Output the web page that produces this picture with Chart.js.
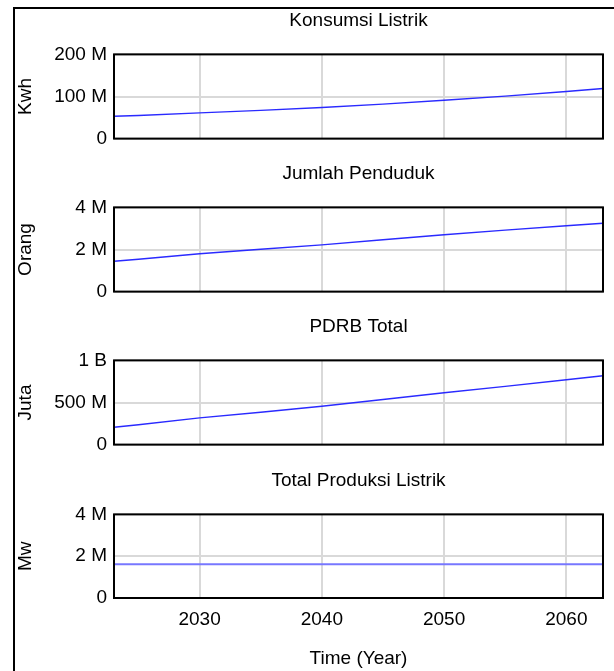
<!DOCTYPE html>
<html>
<head>
<meta charset="utf-8">
<script src="https://cdn.jsdelivr.net/npm/chart.js@4/dist/chart.umd.min.js"></script>
<style>
  html, body { margin: 0; padding: 0; background: #ffffff; }
  body { width: 614px; height: 671px; position: relative; overflow: hidden; }
  #frame { position: absolute; left: 13px; top: 7px; width: 610px; height: 680px;
           border-left: 2px solid #000; border-top: 2px solid #000; box-sizing: border-box; }
  canvas { position: absolute; left: 0; }
</style>
</head>
<body>
<div id="frame"></div>
<canvas id="c1" width="614" height="148" style="top:9px"></canvas>
<canvas id="c2" width="614" height="148" style="top:162px"></canvas>
<canvas id="c3" width="614" height="148" style="top:315px"></canvas>
<canvas id="c4" width="614" height="202" style="top:469px"></canvas>
<script>
// ---- data (values in millions) ----
const years = [2023, 2025, 2030, 2035, 2040, 2045, 2050, 2055, 2060, 2063];
const konsumsiListrik = [53, 55, 61, 67, 74, 82, 91, 101, 112, 119];       // Kwh
const jumlahPenduduk  = [1.44, 1.54, 1.80, 2.01, 2.22, 2.46, 2.70, 2.92, 3.13, 3.25]; // Orang
const pdrbTotal       = [206, 236, 318, 385, 456, 535, 615, 692, 770, 818]; // Juta
const produksiListrik = [1.61, 1.61, 1.61, 1.61, 1.61, 1.61, 1.61, 1.61, 1.61, 1.61]; // Mw
const xTicks = [2030, 2040, 2050, 2060];
const titles = ['Konsumsi Listrik', 'Jumlah Penduduk', 'PDRB Total', 'Total Produksi Listrik'];
const units  = ['Kwh', 'Orang', 'Juta', 'Mw'];
const yMax   = [200, 4, 1000, 4];
const yStep  = [100, 2, 500, 2];
const xAxisTitle = 'Time (Year)';

const FONT = "'Liberation Sans', Arial, sans-serif";
const FS = 19;

function fmt(v) {
  if (v === 0) return '0';
  if (v >= 1000) return (v / 1000) + ' B';
  return v + ' M';
}

const framePlugin = {
  id: 'frame',
  afterDraw(chart) {
    const a = chart.chartArea, ctx = chart.ctx;
    ctx.save();
    ctx.strokeStyle = '#000';
    ctx.lineWidth = 2;
    ctx.strokeRect(a.left, a.top, a.right - a.left, a.bottom - a.top);
    ctx.restore();
  }
};

function makeChart(id, idx, values, isLast) {
  const pts = years.map((y, i) => ({ x: y, y: values[i] }));
  return new Chart(document.getElementById(id), {
    type: 'line',
    data: { datasets: [{
      data: pts,
      borderColor: isLast ? '#7777ff' : '#2a2aff',
      borderWidth: isLast ? 2 : 1.4,
      pointRadius: 0,
      tension: 0,
      fill: false
    }]},
    options: {
      responsive: false,
      animation: false,
      devicePixelRatio: 1,
      layout: { padding: { left: 0, right: 11, top: 0, bottom: isLast ? 0 : 12 } },
      plugins: {
        legend: { display: false },
        tooltip: { enabled: false },
        title: {
          display: true, text: titles[idx], color: '#000', fullSize: false,
          font: { family: FONT, size: FS, weight: 'normal' },
          padding: { top: 0, bottom: 22.6 }
        }
      },
      scales: {
        x: {
          type: 'linear', min: 2023, max: 2063,
          afterBuildTicks: s => { s.ticks = xTicks.map(v => ({ value: v })); },
          afterFit: s => { s.height = isLast ? 73 : 0; },
          grid: { color: '#d9d9d9', lineWidth: 2, drawTicks: false },
          border: { display: false },
          ticks: {
            display: isLast, color: '#000', padding: 10, maxRotation: 0,
            font: { family: FONT, size: FS },
            callback: v => String(v)
          },
          title: {
            display: isLast, text: xAxisTitle, color: '#000',
            font: { family: FONT, size: FS },
            padding: { top: 0, bottom: 1 }
          }
        },
        y: {
          min: 0, max: yMax[idx],
          afterFit: s => { s.width = 114; },
          grid: { color: '#d9d9d9', lineWidth: 2, drawTicks: false },
          border: { display: false },
          ticks: {
            stepSize: yStep[idx], color: '#000', padding: 7,
            font: { family: FONT, size: FS },
            callback: v => fmt(v)
          },
          title: {
            display: true, text: units[idx], color: '#000',
            font: { family: FONT, size: FS },
            padding: { top: 14, bottom: 0 }
          }
        }
      }
    },
    plugins: [framePlugin]
  });
}

makeChart('c1', 0, konsumsiListrik, false);
makeChart('c2', 1, jumlahPenduduk, false);
makeChart('c3', 2, pdrbTotal, false);
makeChart('c4', 3, produksiListrik, true);
</script>
</body>
</html>
